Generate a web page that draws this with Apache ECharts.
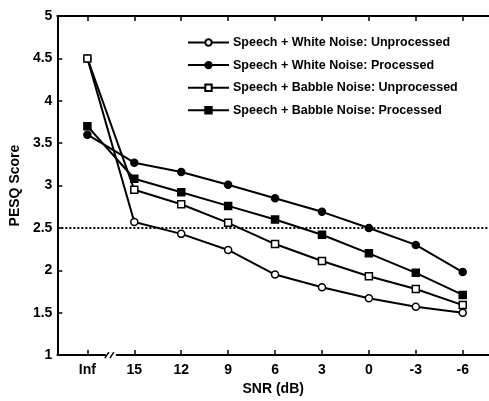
<!DOCTYPE html>
<html><head><meta charset="utf-8">
<script src="https://cdn.jsdelivr.net/npm/echarts@6/dist/echarts.min.js"></script>
<style>html,body{margin:0;padding:0;background:#fff}#c{width:489px;height:401px}</style>
</head><body><div id="c"></div>
<script>
const categories = ['Inf','15','12','9','6','3','0','-3','-6'];
const whiteUnprocessed = [4.5, 2.57, 2.43, 2.24, 1.95, 1.80, 1.67, 1.57, 1.50];
const whiteProcessed   = [3.60, 3.27, 3.16, 3.01, 2.85, 2.69, 2.50, 2.30, 1.98];
const babbleUnprocessed= [4.5, 2.95, 2.78, 2.56, 2.31, 2.11, 1.93, 1.78, 1.59];
const babbleProcessed  = [3.70, 3.08, 2.92, 2.76, 2.60, 2.42, 2.20, 1.97, 1.71];
const seriesNames = ['Speech + White Noise: Unprocessed','Speech + White Noise: Processed','Speech + Babble Noise: Unprocessed','Speech + Babble Noise: Processed'];
const threshold = 2.5;
const breakAt = 0.5;
const yTicks = [1,1.5,2,2.5,3,3.5,4,4.5,5];

const FONT = '"Liberation Sans Narrow","Arial Narrow","Liberation Sans",Arial,sans-serif';
const idx = categories.map((c,i)=>i);
const toData = arr => arr.map((v,i)=>[i,v]);
const xMin = -0.64, xMax = 8.56;

const mk = (name, vals, symbol, filled) => ({
  name, type:'line', xAxisIndex:0, data: toData(vals),
  symbol, symbolSize: 7,
  lineStyle:{color:'#000', width:2},
  itemStyle:{color: filled ? '#000' : '#fff', borderColor:'#000', borderWidth:1.5},
  emphasis:{disabled:true}, animation:false
});

const chart = echarts.init(document.getElementById('c'), null, {renderer:'canvas'});
const s = [
  mk(seriesNames[0], whiteUnprocessed, 'circle', false),
  mk(seriesNames[1], whiteProcessed, 'circle', true),
  mk(seriesNames[2], babbleUnprocessed, 'rect', false),
  mk(seriesNames[3], babbleProcessed, 'rect', true)
];
s[0].markLine = {silent:true, symbol:'none', label:{show:false},
  lineStyle:{color:'#000', type:[2,2], width:2},
  data:[{yAxis: threshold}]};
s.push({
  type:'custom', xAxisIndex:0, clip:false, silent:true, animation:false, z:10,
  data:[[breakAt, yTicks[0]]],
  renderItem:(params, api)=>{
    const p = api.coord([api.value(0), api.value(1)]);
    return {type:'group', children:[
      {type:'rect', shape:{x:p[0]-5, y:p[1]-4, width:10, height:8}, style:{fill:'#fff'}},
      {type:'line', shape:{x1:p[0]-6, y1:p[1]+3, x2:p[0]-2, y2:p[1]-3}, style:{stroke:'#000', lineWidth:1.5}},
      {type:'line', shape:{x1:p[0]-1, y1:p[1]+3, x2:p[0]+3, y2:p[1]-3}, style:{stroke:'#000', lineWidth:1.5}}
    ]};
  }
});

chart.setOption({
  animation:false,
  grid:{left:57, top:16, right:0, bottom:41, containLabel:false},
  legend:{
    orient:'vertical', left:187, top:35.5, padding:0, itemWidth:41, itemHeight:8, itemGap:8.6,
    data: seriesNames,
    textStyle:{color:'#000', fontWeight:'bold', fontSize:12.5, lineHeight:14, fontFamily:FONT, padding:[0,0,0,-1]}
  },
  xAxis:[{
    type:'value', min:xMin, max:xMax, position:'bottom',
    name:'SNR (dB)', nameLocation:'middle', nameGap:26,
    nameTextStyle:{color:'#000', fontWeight:'bold', fontSize:14, fontFamily:FONT},
    splitLine:{show:false},
    axisLine:{show:true, onZero:false, lineStyle:{color:'#000', width:2}},
    axisTick:{show:true, inside:true, length:5, customValues: idx, lineStyle:{color:'#000', width:1.5}},
    axisLabel:{show:true, customValues: idx, formatter:v=>categories[Math.round(v)], color:'#000', fontWeight:'bold', fontSize:14, fontFamily:FONT, margin:8}
  },{
    type:'value', min:xMin, max:xMax, position:'top',
    splitLine:{show:false},
    axisLine:{show:true, onZero:false, lineStyle:{color:'#000', width:2}},
    axisTick:{show:true, inside:true, length:5, customValues: idx, lineStyle:{color:'#000', width:1.5}},
    axisLabel:{show:false}
  }],
  yAxis:{
    type:'value', min:1, max:5, interval:0.5, position:'left',
    name:'PESQ Score', nameLocation:'middle', nameGap:28,
    nameTextStyle:{color:'#000', fontWeight:'bold', fontSize:14, fontFamily:FONT},
    splitLine:{show:false},
    axisLine:{show:true, onZero:false, lineStyle:{color:'#000', width:2}},
    axisTick:{show:true, inside:true, length:5, lineStyle:{color:'#000', width:1.5}},
    axisLabel:{color:'#000', fontWeight:'bold', fontSize:14, fontFamily:FONT, margin:5}
  },
  series: s
});
</script></body></html>
